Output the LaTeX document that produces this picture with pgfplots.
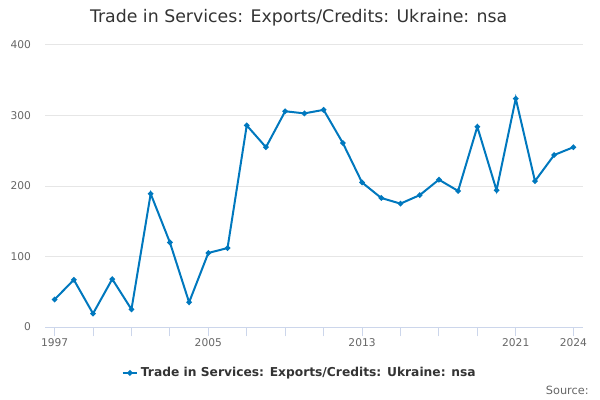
\documentclass[border=0pt]{standalone}
\usepackage{pgfplots}
\pgfplotsset{compat=1.18}
\usepackage{fontspec}
\setmainfont{DejaVu Sans}

\definecolor{linecol}{RGB}{0,120,190}
\definecolor{gridcol}{RGB}{230,230,230}
\definecolor{axiscol}{RGB}{204,214,235}
\definecolor{ticklab}{RGB}{102,102,102}
\definecolor{titlecol}{RGB}{51,51,51}

\begin{document}
\begin{tikzpicture}
\useasboundingbox (0,0) rectangle (450pt,300pt);
\node[font=\fontsize{13}{15}\selectfont, text=titlecol] at (224pt,286.5pt) {Trade in Services: Exports/Credits: Ukraine: nsa};
\begin{axis}[
  at={(33.75pt,54.75pt)}, anchor=south west,
  scale only axis,
  width=403.5pt, height=211.5pt,
  xmin=1996.5, xmax=2024.5,
  ymin=0, ymax=400,
  ytick={0,100,200,300,400},
  xtick={1997,1999,2001,2003,2005,2007,2009,2011,2013,2015,2017,2019,2021,2024},
  xticklabels={1997,,,,2005,,,,2013,,,,2021,2024},
  axis x line*=bottom, axis y line*=left,
  x axis line style={color=axiscol, line width=0.75pt, -},
  y axis line style={draw=none},
  ymajorgrids, grid style={color=gridcol, line width=0.75pt},
  major tick length=7pt,
  xtick style={color=axiscol, line width=0.75pt},
  ytick style={draw=none},
  tick align=outside,
  xticklabel style={font=\fontsize{8}{9}\selectfont, text=ticklab, yshift=2pt},
  yticklabel style={font=\fontsize{8}{9}\selectfont, text=ticklab},
  /pgf/number format/assume math mode=true,
  /pgf/number format/1000 sep={},
  legend style={at={(0.474,-0.163)}, anchor=center, draw=none, fill=none,
    font=\bfseries\fontsize{9.2}{11}\selectfont, text=titlecol},
  legend image code/.code={
    \draw[#1, mark=none] (0pt,0pt) -- (11pt,0pt);
    \draw[#1, mark size=1.2pt] plot[only marks] coordinates {(5.5pt,0pt)};},
]
\addplot[color=linecol, line width=1.5pt, mark=*, mark size=1.2pt] coordinates {
(1997,39) (1998,67) (1999,19) (2000,68) (2001,25) (2002,189) (2003,120)
(2004,35) (2005,105) (2006,112) (2007,286) (2008,255) (2009,306) (2010,303)
(2011,308) (2012,261) (2013,205) (2014,183) (2015,175) (2016,187) (2017,209)
(2018,193) (2019,284) (2020,194) (2021,324) (2022,207) (2023,244) (2024,255)
};
\addlegendentry{Trade in Services: Exports/Credits: Ukraine: nsa}
\end{axis}
\node[anchor=east, font=\fontsize{8.5}{10}\selectfont, text=ticklab] at (445pt,7.5pt) {Source:};
\end{tikzpicture}
\end{document}
